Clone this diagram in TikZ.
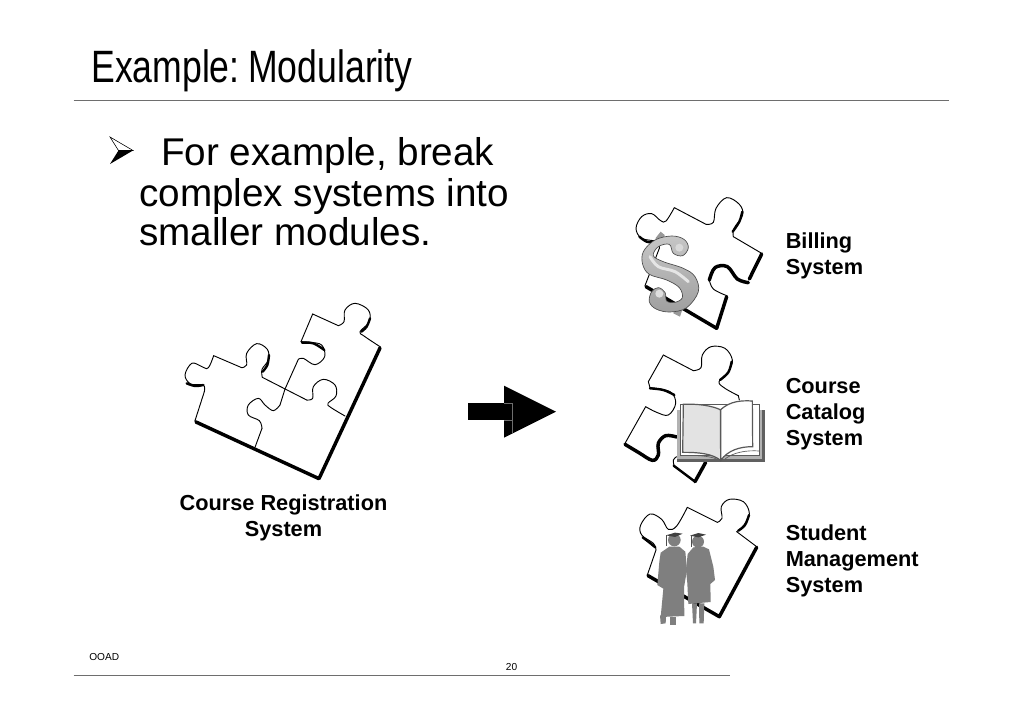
\documentclass[tikz,border=0pt]{standalone}
\usepackage{fontspec}
\setmainfont{Liberation Sans}
\newfontfamily\titlefont[FakeStretch=0.785,WordSpace=0.55]{Liberation Sans}
\definecolor{gown}{HTML}{7F7F7F}
\definecolor{rulegray}{HTML}{6E6E6E}
\tikzset{
  edge/.style={line width=0.7pt,line cap=round,line join=round},
  thickedge/.style={line width=2.6pt,line cap=round,line join=round},
  crescent/.style={line width=1.8pt,line cap=round,line join=round},
  labeltext/.style={anchor=north west,inner sep=0pt,align=left,font=\bfseries\fontsize{16.3}{19.5}\selectfont},
  smalltext/.style={inner sep=0pt,font=\fontsize{7.6}{9}\selectfont},
  zoomed/.style={x=0.25pt,y=-0.25pt}
}
\begin{document}
\begin{tikzpicture}[x=0.75pt,y=-0.75pt]
\useasboundingbox (0,0) rectangle (1024,724);
\fill[white] (0,0) rectangle (1024,724);
% rules
\draw[rulegray,line width=0.8pt] (73.5,100.5) -- (949,100.5);
\draw[rulegray,line width=0.8pt] (73.5,675.5) -- (730,675.5);
% title and body
\node[anchor=base west,inner sep=0pt,font=\titlefont\fontsize{34}{34}\selectfont] (title) at (91,83) {Example: Modularity};
\fill[black] (110,137) -- (133,150.5) -- (110,164) -- (118.5,150.5) -- cycle;
\filldraw[fill=white,draw=black,line width=0.4pt] (110,137) -- (133,150.5) -- (118.5,150.5) -- cycle;
\node[anchor=base west,inner sep=0pt,font=\fontsize{29}{30}\selectfont] (b1) at (161,165) {For example, break};
\node[anchor=base west,inner sep=0pt,font=\fontsize{29}{30}\selectfont] (b2) at (139,206) {complex systems into};
\node[anchor=base west,inner sep=0pt,font=\fontsize{29}{30}\selectfont] (b3) at (139,245) {smaller modules.};
% labels
\node[anchor=base,inner sep=0pt,align=center,font=\bfseries\fontsize{16.3}{19.5}\selectfont] (reg1) at (283.5,510) {Course Registration};
\node[anchor=base,inner sep=0pt,font=\bfseries\fontsize{16.3}{19.5}\selectfont] (reg2) at (283.5,536) {System};
\node[labeltext] (bill) at (785.5,232) {Billing\\System};
\node[labeltext] (cat) at (785.5,378.5) {Course\\Catalog\\System};
\node[labeltext] (stu) at (785.5,524) {Student\\Management\\System};
\node[smalltext,anchor=base west] (ooad) at (89,660.5) {OOAD};
\node[smalltext,anchor=base] (pg) at (511.5,670.5) {20};
% block arrow
\begin{scope}[shift={(450,370)},zoomed]
\fill[black] (53,100) rectangle (187,151);
\fill[black] (162,47) -- (318,125) -- (162,203) -- cycle;
\draw[rulegray,line width=0.4pt] (162,100) -- (187,100) -- (187,190);
\draw[rulegray,line width=0.4pt] (162,151) -- (187,151);
\end{scope}
% left puzzle
\begin{scope}[shift={(170,290)},zoomed]
\draw[edge] (75,392) -- (103,305);
\draw[edge] plot[smooth,tension=.6] coordinates {(103,305) (100,285) (62,282) (45,255) (65,220) (92,228) (110,236) (120,225) (131,197)};
\draw[edge] (131,197) -- (215,233);
\draw[edge] plot[smooth,tension=.6] coordinates {(215,233) (230,225) (230,190) (260,161) (292,178) (295,210) (276,238) (277,262)};
\draw[edge] (277,262) -- (410,330);
\draw[edge] plot[smooth,tension=.6] coordinates {(410,330) (428,325) (430,290) (460,268) (495,285) (498,318) (474,340) (482,352) (525,378)};
\draw[edge] (345,297) -- (385,208);
\draw[edge] plot[smooth,tension=.6] coordinates {(385,208) (400,205) (435,224) (464,200) (455,165) (420,157) (393,155)};
\draw[edge] (393,155) -- (428,72);
\draw[edge] (428,72) -- (505,107);
\draw[edge] plot[smooth,tension=.6] coordinates {(505,107) (522,95) (525,60) (555,40) (595,60) (598,95) (570,125) (582,138) (630,170)};
\draw[edge] (345,297) -- (330,345);
\draw[edge] plot[smooth,tension=.6] coordinates {(330,345) (310,362) (285,345) (265,325) (235,345) (235,375) (268,392) (276,415)};
\draw[edge] (276,415) -- (255,472);
\draw[edge] (630,170) -- (445,565) -- (75,392);
\draw[thickedge] (630,174) -- (447,566) -- (78,396);
\draw[crescent] plot[smooth,tension=.6] coordinates {(396,158) (430,160) (463,180)};
\draw[crescent] plot[smooth,tension=.6] coordinates {(297,195) (292,225) (278,245)};
\draw[crescent] plot[smooth,tension=.6] coordinates {(600,85) (590,110) (574,125)};
\draw[crescent] plot[smooth,tension=.6] coordinates {(50,280) (75,288) (100,285)};
\end{scope}
% billing puzzle
\begin{scope}[shift={(620,185)},zoomed]
\draw[edge] (75,302) -- (118,190);
\draw[edge] plot[smooth,tension=.6] coordinates {(118,190) (112,170) (65,160) (48,130) (65,95) (95,86) (122,107) (138,108) (163,68)};
\draw[edge] (163,68) -- (258,118);
\draw[edge] plot[smooth,tension=.6] coordinates {(258,118) (280,112) (288,70) (320,38) (358,58) (368,90) (342,130) (340,155)};
\draw[edge] (340,155) -- (425,205);
\draw[edge] plot[smooth,tension=.6] coordinates {(268,285) (280,312) (320,332)};
\draw[thickedge] (425,207) -- (388,282);
\draw[thickedge] plot[smooth,tension=.6] coordinates {(385,293) (352,282) (322,245) (285,248) (268,285)};
\draw[crescent] plot[smooth,tension=.6] coordinates {(367,80) (358,110) (338,140)};
\draw[crescent] plot[smooth,tension=.6] coordinates {(58,155) (80,170) (105,172)};
\draw[thickedge] (320,335) -- (290,430) -- (78,305);
% dollar sign
\fill[gray!80] (106,160) -- (122,140) -- (134,150) -- (130,172) -- cycle;
\fill[gray!80] (160,385) -- (168,362) -- (190,365) -- (180,395) -- cycle;
\shade[top color=gray!45,bottom color=gray!75,draw=gray!60!black,line width=0.5pt]
  plot[smooth cycle,tension=.6] coordinates {(205,188) (192,163) (155,153) (105,165) (70,200) (68,238) (88,268) (140,285) (178,308) (187,338) (165,352) (140,348) (135,322) (115,308) (95,320) (88,350) (108,372) (150,381) (200,368) (235,320) (225,275) (190,250) (130,230) (100,212) (115,185) (148,178) (160,205) (188,212)};
\draw[gray!20,line width=2.2pt,line cap=round] plot[smooth,tension=.6] coordinates {(90,215) (115,245) (165,260) (205,290)};
\fill[gray!30] (178,188) circle (12);
\fill[gray!25] (118,326) circle (12);
\end{scope}
% catalog puzzle
\begin{scope}[shift={(615,335)},zoomed]
\draw[edge] (30,325) -- (92,215);
\draw[edge] plot[smooth,tension=.6] coordinates {(92,215) (125,232) (160,240) (182,205) (165,170) (105,158)};
\draw[edge] (105,158) -- (100,140) -- (145,60);
\draw[edge] (145,60) -- (235,107);
\draw[edge] plot[smooth,tension=.6] coordinates {(235,107) (258,98) (262,60) (288,35) (330,40) (352,75) (340,110) (312,140) (330,160) (370,182)};
\draw[edge] (370,182) -- (373,195);
\draw[crescent] plot[smooth,tension=.6] coordinates {(105,160) (145,165) (178,180)};
\draw[crescent] plot[smooth,tension=.6] coordinates {(350,80) (340,112) (315,135)};
\draw[thickedge] plot[smooth,tension=.6] coordinates {(30,328) (70,352) (112,376) (130,360) (130,325) (152,302) (185,306)};
\draw[edge] plot[smooth,tension=.6] coordinates {(185,365) (175,375) (178,396)};
\draw[crescent] (176,392) -- (240,440);
\draw[thickedge] (240,440) -- (272,382);
% book
\fill[gray!75!black] (186,226) rectangle (449,380);
\fill[gray!60] (186,226) rectangle (440,372);
\filldraw[fill=white,draw=gray!70!black,line width=0.6pt] (196,208) rectangle (433,362);
\filldraw[fill=gray!22,draw=gray!70!black,line width=0.9pt] (205,208) .. controls (250,206) and (290,212) .. (316,224) -- (317,376) .. controls (290,355) and (250,352) .. (203,352) -- cycle;
\filldraw[fill=white,draw=gray!70!black,line width=0.9pt] (317,224) .. controls (345,198) and (380,196) .. (412,198) -- (413,335) .. controls (375,335) and (340,345) .. (317,376) -- cycle;
\draw[gray!70!black,line width=0.5pt] (330,372) .. controls (355,352) and (395,345) .. (433,348);
\draw[gray!70!black,line width=0.5pt] (305,372) .. controls (280,362) and (240,360) .. (197,362);
\end{scope}
% student puzzle
\begin{scope}[shift={(630,490)},zoomed]
\draw[edge] (52,255) -- (78,180);
\draw[edge] plot[smooth,tension=.6] coordinates {(78,180) (70,160) (35,135) (32,105) (60,72) (95,88) (115,118) (140,108) (172,52)};
\draw[edge] (172,52) -- (262,97);
\draw[edge] plot[smooth,tension=.6] coordinates {(262,97) (276,85) (274,50) (298,28) (340,35) (358,70) (342,105) (320,125)};
\draw[edge] (320,125) -- (380,170);
\draw[thickedge] (380,172) -- (268,380) -- (54,257);
\draw[crescent] plot[smooth,tension=.6] coordinates {(38,142) (55,155) (76,172)};
\draw[crescent] plot[smooth,tension=.6] coordinates {(357,75) (345,105) (325,122)};
% left graduate
\fill[gown] (133,150) circle (19);
\fill[gown] (92,188) -- (118,170) -- (148,170) -- (166,185) -- (171,240) -- (162,292) -- (163,378) -- (92,381) -- (100,296) -- (82,285) -- (88,215) -- cycle;
\fill[gown] (90,376) -- (108,378) -- (107,400) -- (92,402) -- cycle;
\fill[gown] (120,380) -- (139,380) -- (139,404) -- (120,404) -- cycle;
\fill[black!75] (108,136) -- (135,128) -- (158,131) -- (135,141) -- cycle;
\draw[black!70,line width=0.6pt] (110,136) -- (110,168);
% right graduate
\fill[gown] (204,155) circle (18);
\fill[gown] (173,192) -- (190,172) -- (220,170) -- (237,178) -- (250,230) -- (255,270) -- (241,282) -- (242,336) -- (175,342) -- (172,280) -- (168,240) -- cycle;
\fill[gown] (186,340) -- (201,340) -- (198,400) -- (189,400) -- cycle;
\fill[gown] (207,340) -- (223,340) -- (221,400) -- (208,400) -- cycle;
\fill[black!75] (180,137) -- (205,129) -- (228,134) -- (205,142) -- cycle;
\draw[black!70,line width=0.6pt] (183,137) -- (183,172);
\end{scope}
\end{tikzpicture}
\end{document}
